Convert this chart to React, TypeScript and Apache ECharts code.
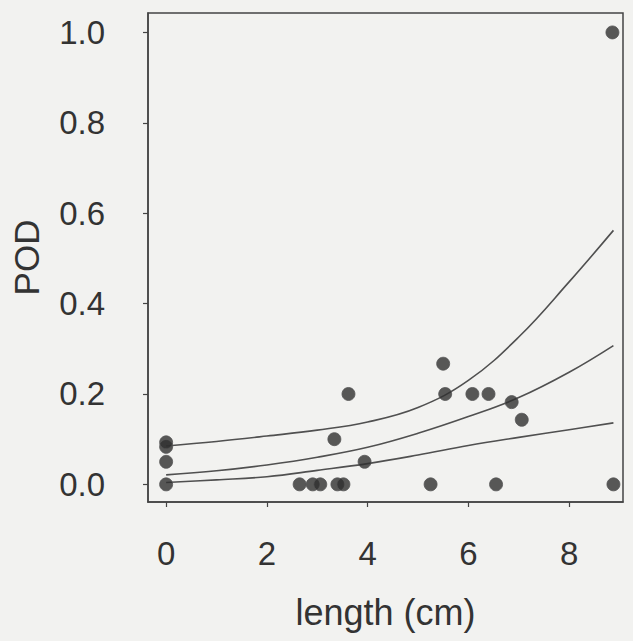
import React, { useEffect, useRef } from "react";
import * as echarts from "echarts";

// Observed points (length cm, POD)
const pointX = [0, 0, 0, 0, 2.65, 2.91, 3.06, 3.4, 3.52, 3.34, 3.62, 3.94, 5.25, 5.5, 5.54, 6.08, 6.4, 6.55, 6.86, 7.06, 8.88, 8.86];
const pointY = [0, 0.05, 0.083, 0.093, 0, 0, 0, 0, 0, 0.1, 0.2, 0.05, 0, 0.267, 0.2, 0.2, 0.2, 0, 0.182, 0.143, 0, 1.0];

// Fitted curve and bounds, read at these lengths
const curveX = [0, 1, 2, 3, 4, 5, 6, 7, 8, 8.88];
const upperY = [0.085, 0.095, 0.107, 0.12, 0.138, 0.17, 0.23, 0.326, 0.448, 0.562];
const middleY = [0.021, 0.03, 0.043, 0.06, 0.082, 0.113, 0.15, 0.192, 0.248, 0.307];
const lowerY = [0.004, 0.01, 0.017, 0.031, 0.046, 0.065, 0.086, 0.104, 0.121, 0.136];

const xTicks = [0, 2, 4, 6, 8];
const yTicks = [0, 0.2, 0.4, 0.6, 0.8, 1.0];

export default function App() {
  const ref = useRef<HTMLDivElement>(null);
  useEffect(() => {
    if (!ref.current) return;
    const chart = echarts.init(ref.current, null, { renderer: "svg" });
    const font = "'Liberation Sans', Arial, sans-serif";
    const ink = "#333";
    const lineStyle = { color: "#505050", width: 1.6 };
    const curve = (ys: number[]) => ({
      type: "line",
      data: curveX.map((x, i) => [x, ys[i]]),
      smooth: 0.4,
      showSymbol: false,
      lineStyle,
      silent: true,
      z: 2,
    });
    chart.setOption({
      animation: false,
      backgroundColor: "#f2f2f0",
      grid: {
        left: 148,
        top: 13,
        right: 10,
        bottom: 139,
        show: true,
        borderColor: "#444",
        borderWidth: 1.5,
        backgroundColor: "transparent",
      },
      xAxis: {
        type: "value",
        min: -0.36,
        max: 9.07,
        name: "length (cm)",
        nameLocation: "middle",
        nameGap: 92,
        nameTextStyle: { fontFamily: font, fontSize: 36, color: ink },
        axisLine: { show: true, onZero: false, lineStyle: { color: "#444", width: 1.5 } },
        axisTick: { show: true, customValues: xTicks, length: 5, inside: false, lineStyle: { color: "#444", width: 1.2 } },
        axisLabel: {
          customValues: xTicks,
          margin: 35,
          fontFamily: font,
          fontSize: 33,
          color: ink,
          formatter: (v: number) => String(v),
        },
        splitLine: { show: false },
      },
      yAxis: {
        type: "value",
        min: -0.039,
        max: 1.043,
        name: "POD",
        nameLocation: "middle",
        nameRotate: 90,
        nameGap: 104,
        nameTextStyle: { fontFamily: font, fontSize: 35, color: ink },
        axisLine: { show: true, onZero: false, lineStyle: { color: "#444", width: 1.5 } },
        axisTick: { show: true, customValues: yTicks, length: 5, inside: false, lineStyle: { color: "#444", width: 1.2 } },
        axisLabel: {
          customValues: yTicks,
          margin: 43,
          fontFamily: font,
          fontSize: 33,
          color: ink,
          formatter: (v: number) => v.toFixed(1),
        },
        splitLine: { show: false },
      },
      series: [
        curve(upperY),
        curve(middleY),
        curve(lowerY),
        {
          type: "scatter",
          data: pointX.map((x, i) => [x, pointY[i]]),
          symbol: "circle",
          symbolSize: 13,
          itemStyle: { color: "#303030", borderColor: "#555", borderWidth: 1 },
          z: 3,
        },
      ],
    });
    return () => chart.dispose();
  }, []);
  return (
    <div
      ref={ref}
      style={{ position: "fixed", left: 0, top: 0, width: 633, height: 641 }}
    />
  );
}
